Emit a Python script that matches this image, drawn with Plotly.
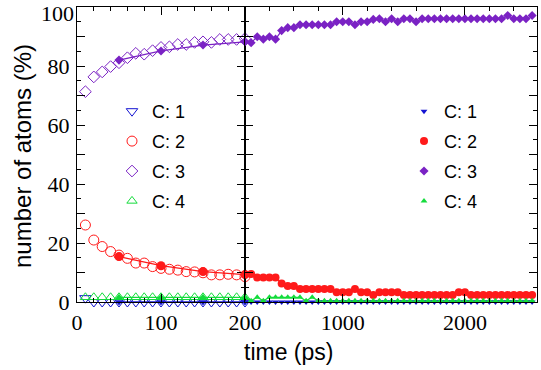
import plotly.graph_objects as go

# ---------------- data ----------------
# short run (open symbols), every 10 ps
t_short = [10, 20, 30, 40, 50, 60, 70, 80, 90, 100, 110, 120, 130, 140, 150, 160, 170, 180, 190, 200]
c1_short = [1.3, 0, 0, 0, 0, 0, 0, 0, 0, 0, 0, 0, 0, 0, 0, 0, 0, 0, 0, 0]
c2_short = [26.1, 21.0, 18.8, 17.1, 15.9, 14.8, 13.2, 13.2, 12.0, 11.4, 11.1, 10.8, 10.3, 10.2, 9.9, 9.2, 9.2, 9.4, 9.2, 8.6]
c3_short = [71.3, 76.3, 78.0, 79.8, 81.1, 82.8, 84.3, 84.0, 85.2, 86.3, 86.5, 87.3, 87.3, 88.0, 88.2, 88.0, 89.0, 89.0, 89.0, 89.3]
c4_short = [1.6, 1.6, 1.6, 1.6, 1.6, 1.6, 1.6, 1.6, 1.6, 1.6, 1.6, 1.6, 1.6, 1.6, 1.6, 1.6, 1.6, 1.6, 1.6, 1.6]

# long run (filled symbols), every 50 ps
t_long = [50, 100, 150, 200, 250, 300, 350, 400, 450, 500, 550, 600, 650, 700, 750, 800, 850, 900,
          950, 1000, 1050, 1100, 1150, 1200, 1250, 1300, 1350, 1400, 1450, 1500, 1550, 1600, 1650,
          1700, 1750, 1800, 1850, 1900, 1950, 2000, 2050, 2100, 2150, 2200, 2250, 2300, 2350, 2400,
          2450, 2500, 2550]
c1_long = [0] * 51
c2_long = [15.4, 12.3, 10.3, 9.3, 9.5, 8.3, 8.3, 8.3, 8.3, 6.3, 5.4, 5.4, 4.4, 4.4, 4.4, 4.4, 4.4, 4.4,
           3.3, 3.3, 3.3, 4.4, 3.3, 3.3, 2.4, 3.3, 3.3, 3.3, 3.3, 2.4, 2.4, 2.4, 2.4,
           2.4, 2.4, 2.4, 2.4, 2.4, 3.3, 3.3, 2.4, 2.4, 2.4, 2.4, 2.4, 2.4, 2.4, 2.4,
           2.4, 2.4, 2.4]
c3_long = [82.0, 85.1, 87.1, 88.2, 87.9, 89.9, 89.1, 89.9, 89.1, 92.0, 93.0, 93.0, 94.0, 94.0, 94.0, 94.0, 94.0, 94.0,
           95.0, 95.0, 95.0, 94.0, 95.0, 95.0, 95.8, 96.0, 95.0, 96.0, 95.0, 96.0, 96.0, 95.0, 96.0,
           96.0, 96.0, 96.0, 96.0, 96.0, 96.0, 96.0, 96.0, 96.0, 96.0, 96.0, 96.0, 96.0, 97.1, 96.0,
           96.0, 96.0, 97.1]
c4_long = [1.6, 1.6, 1.6, 1.6, 0.4, 1.6, 0.4, 1.6, 1.6, 1.6, 1.6, 1.6, 1.6, 0.4, 1.6, 0.4, 0.4, 0.4,
           0.4, 0.4, 0.4, 0.4, 0.4, 0.4, 0.4, 0.4, 0.4, 0.4, 0.4, 0.4, 0.4, 0.4, 0.4,
           0.4, 0.4, 0.4, 0.4, 0.4, 0.4, 0.4, 0.4, 0.4, 0.4, 0.4, 0.4, 0.4, 0.4, 0.4,
           0.4, 0.4, 0.4]

names = ["C: 1", "C: 2", "C: 3", "C: 4"]
colors = ["#1414d2", "#ff1a1a", "#7a22c4", "#14dc3c"]
open_symbols = ["triangle-down-open", "circle-open", "diamond-open", "triangle-up-open"]
filled_symbols = ["triangle-down", "circle", "diamond", "triangle-up"]
open_sizes = [10, 10, 9, 9]
filled_sizes_left = [7, 9, 7, 7]
filled_sizes_right = [6, 8, 7, 6]

short_series = [c1_short, c2_short, c3_short, c4_short]
long_series = [c1_long, c2_long, c3_long, c4_long]

SERIF = "Liberation Serif"
SANS = "Liberation Sans"

fig = go.Figure()

# left panel: long run up to 200 ps (filled markers joined by lines)
for i in range(4):
    xs = [t for t in t_long if t <= 200]
    ys = [v for t, v in zip(t_long, long_series[i]) if t <= 200]
    fig.add_trace(go.Scatter(x=xs, y=ys, mode="lines+markers", xaxis="x", yaxis="y",
                             line=dict(color=colors[i], width=1.3),
                             marker=dict(symbol=filled_symbols[i], size=filled_sizes_left[i], color=colors[i]),
                             showlegend=False, cliponaxis=False))

# left panel: short run (open markers, legend 1)
for i in range(4):
    fig.add_trace(go.Scatter(x=t_short, y=short_series[i], mode="markers", xaxis="x", yaxis="y",
                             name=names[i], legend="legend", legendgroup="o%d" % i,
                             marker=dict(symbol=open_symbols[i], size=open_sizes[i], color=colors[i],
                                         line=dict(width=1, color=colors[i])),
                             cliponaxis=False))

# right panel: long run from 200 ps on
for i in range(4):
    xs = [t for t in t_long if t >= 200]
    ys = [v for t, v in zip(t_long, long_series[i]) if t >= 200]
    fig.add_trace(go.Scatter(x=xs, y=ys, mode="lines", xaxis="x2", yaxis="y2",
                             line=dict(color=colors[i], width=1.2), showlegend=False, cliponaxis=False))
for i in range(4):
    xs = [t for t in t_long if t >= 200]
    ys = [v for t, v in zip(t_long, long_series[i]) if t >= 200]
    fig.add_trace(go.Scatter(x=xs, y=ys, mode="markers", xaxis="x2", yaxis="y2",
                             name=names[i], legend="legend2", legendgroup="f%d" % i,
                             marker=dict(symbol=filled_symbols[i], size=filled_sizes_right[i], color=colors[i]),
                             cliponaxis=False))

W, H = 541, 370
x_left = [77 / W, 245 / W]
x_right = [245 / W, 537 / W]
y_dom = [1 - 302 / H, 1 - 7 / H]

tickfont = dict(family=SERIF, size=22, color="black")
axis_common = dict(showline=True, linecolor="black", linewidth=1.3, mirror="ticks",
                   ticks="inside", ticklen=8, tickwidth=1.2, tickcolor="black",
                   showgrid=False, zeroline=False, automargin=False,
                   ticklabeloverflow="allow")
minor_common = dict(ticks="inside", ticklen=4, tickcolor="black", tickwidth=1, showgrid=False)

yticks = [0, 10, 20, 30, 40, 50, 60, 70, 80, 90, 100]
ytext = ["0", "", "20", "", "40", "", "60", "", "80", "", ""]
ytop_val = [100]
ytop_text = ["100"]

fig.update_layout(
    width=W, height=H,
    margin=dict(l=0, r=0, t=0, b=0),
    paper_bgcolor="white", plot_bgcolor="white",
    xaxis=dict(axis_common, domain=x_left, range=[0, 200], tickmode="array",
               tickvals=[0, 100, 200], ticktext=["0", "100", "200"], anchor="y",
               tickfont=tickfont, minor=dict(minor_common, tickmode="linear", tick0=0, dtick=20)),
    xaxis2=dict(axis_common, domain=x_right, range=[200, 2590], tickmode="array",
                tickvals=[1000, 2000], ticktext=["1000", "2000"], anchor="y2",
                tickfont=tickfont, minor=dict(minor_common, tickmode="linear", tick0=0, dtick=200)),
    yaxis=dict(axis_common, domain=y_dom, range=[0, 100], tickmode="array",
               tickvals=yticks, ticktext=ytext, anchor="x", ticklabelstandoff=2,
               tickfont=tickfont, minor=dict(minor_common, tickmode="linear", tick0=0, dtick=5)),
    # the top "100" label sits a few pixels lower than its tick, drawn by an overlay axis
    yaxis3=dict(domain=y_dom, range=[0, 100], overlaying="y", anchor="x", side="left",
                tickmode="array", tickvals=ytop_val, ticktext=ytop_text, ticks="",
                showline=False, showgrid=False, zeroline=False, automargin=False,
                ticklabelstandoff=2, ticklabelshift=6, ticklabeloverflow="allow",
                tickfont=tickfont),
    yaxis2=dict(axis_common, domain=y_dom, range=[0, 100], tickmode="array",
                tickvals=yticks, showticklabels=False, anchor="x2", matches="y",
                minor=dict(minor_common, tickmode="linear", tick0=0, dtick=5)),
    legend=dict(x=112 / W, y=1 - 93 / H, xanchor="left", yanchor="top",
                bgcolor="rgba(0,0,0,0)", font=dict(family=SANS, size=18, color="black"),
                tracegroupgap=3.5, itemsizing="trace"),
    legend2=dict(x=404 / W, y=1 - 93 / H, xanchor="left", yanchor="top",
                 bgcolor="rgba(0,0,0,0)", font=dict(family=SANS, size=18, color="black"),
                 tracegroupgap=3.5, itemsizing="trace"),
    annotations=[
        dict(text="time (ps)", x=288 / W, y=1 - 352 / H, xref="paper", yref="paper",
             showarrow=False, font=dict(family=SANS, size=23, color="black"),
             xanchor="center", yanchor="middle"),
        dict(text="number of atoms (%)", x=22 / W, y=1 - 156 / H, xref="paper", yref="paper",
             showarrow=False, textangle=-90, font=dict(family=SANS, size=24, color="black"),
             xanchor="center", yanchor="middle"),
    ],
)

# the overlay axis needs a trace to be drawn: an invisible copy of the C: 3 short series
fig.add_trace(go.Scatter(x=t_short, y=c3_short, xaxis="x", yaxis="y3", mode="markers",
                         marker=dict(opacity=0), showlegend=False, hoverinfo="skip"))

fig.write_html("out.html", config={"displayModeBar": False},
               post_script="document.body.style.margin='0';document.body.style.padding='0';")
